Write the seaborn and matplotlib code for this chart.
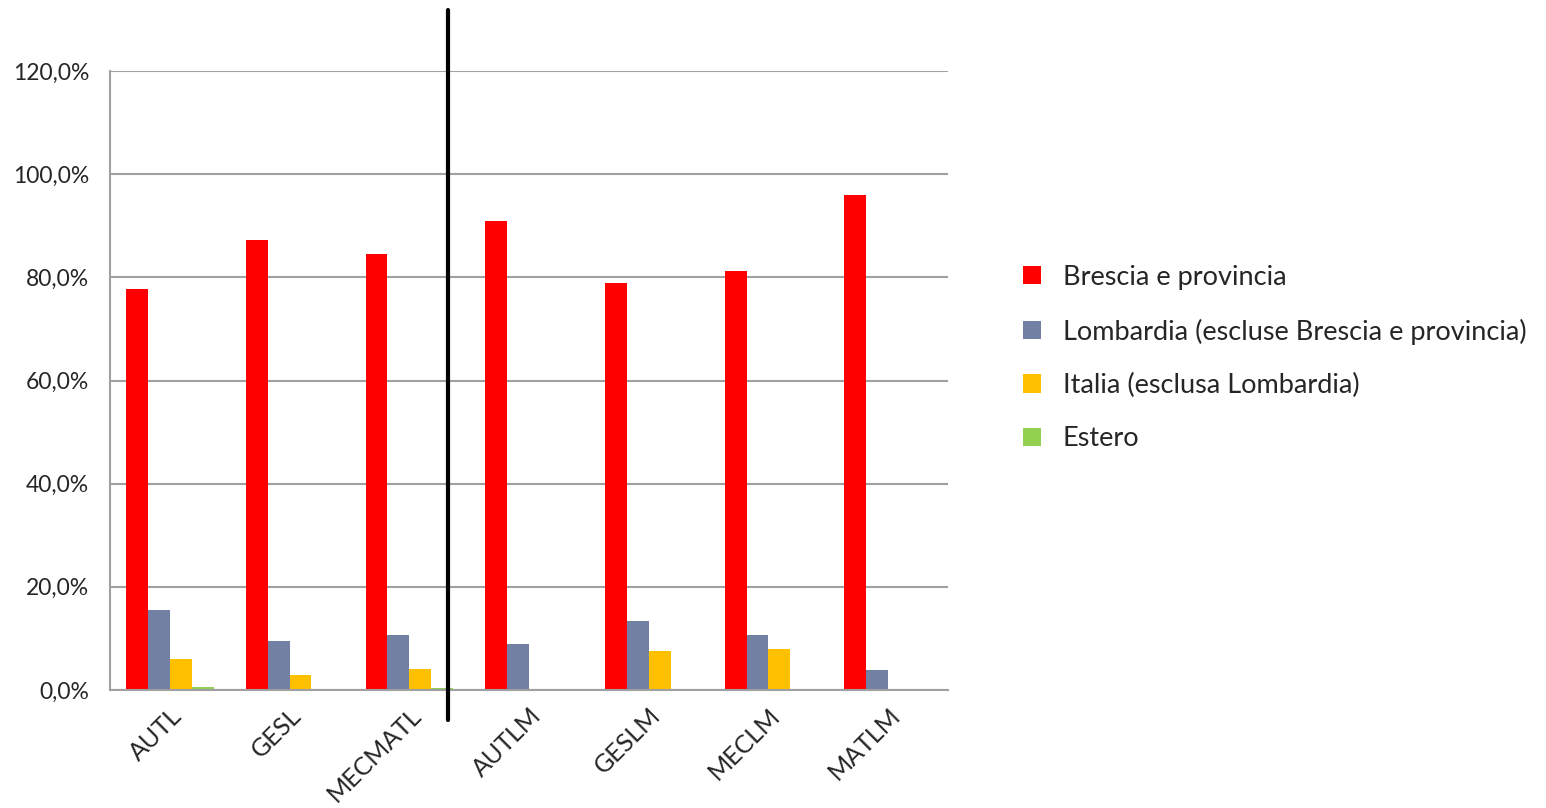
import pandas as pd
import matplotlib.pyplot as plt
import seaborn as sns
from matplotlib.lines import Line2D
from matplotlib.ticker import FuncFormatter, FixedLocator

# data (percent)
corsi = ["AUTL", "GESL", "MECMATL", "AUTLM", "GESLM", "MECLM", "MATLM"]
provenienze = ["Brescia e provincia",
               "Lombardia (escluse Brescia e provincia)",
               "Italia (esclusa Lombardia)",
               "Estero"]
brescia = [77.7, 87.2, 84.5, 90.9, 78.9, 81.2, 95.9]
lombardia = [15.5, 9.5, 10.6, 9.0, 13.4, 10.7, 3.9]
italia = [6.0, 3.0, 4.1, 0.0, 7.6, 8.0, 0.0]
estero = [0.5, 0.0, 0.4, 0.0, 0.0, 0.0, 0.0]
colori = ["#FF0000", "#7180A3", "#FFC000", "#92D050"]

rows = []
for nome, vals in zip(provenienze, [brescia, lombardia, italia, estero]):
    for c, v in zip(corsi, vals):
        rows.append({"Corso": c, "Provenienza": nome, "Valore": v})
df = pd.DataFrame(rows)

sns.set_style("white")
plt.rcParams['font.family'] = ['Lato', 'DejaVu Sans']

fig = plt.figure(figsize=(15.46, 8.08), dpi=100)
ax = fig.add_axes([110 / 1546, 1 - 690 / 808, 838 / 1546, 619 / 808])

sns.barplot(data=df, x="Corso", y="Valore", hue="Provenienza",
            palette=colori, width=0.73, gap=0, saturation=1,
            edgecolor="none", linewidth=0, ax=ax)

ax.set_xlim(-0.5, len(corsi) - 0.5)
ax.set_ylim(0, 120)
ax.set_yticks(range(0, 121, 20))
ax.yaxis.set_major_formatter(FuncFormatter(lambda v, p: f"{v:.1f}%".replace(".", ",")))
ax.set_xlabel("")
ax.set_ylabel("")
ax.grid(axis="y", color="#A0A0A0", linewidth=1.5)
ax.set_axisbelow(True)

for s in ["top", "right"]:
    ax.spines[s].set_visible(False)
for s in ["left", "bottom"]:
    ax.spines[s].set_color("#A0A0A0")
    ax.spines[s].set_linewidth(1.5)

# x ticks at category boundaries, labels at centres
ax.xaxis.set_major_locator(FixedLocator([i - 0.5 for i in range(len(corsi) + 1)]))
ax.xaxis.set_minor_locator(FixedLocator(range(len(corsi))))
ax.set_xticklabels([], minor=False)
ax.set_xticklabels(corsi, minor=True, rotation=45, ha="right",
                   rotation_mode="anchor", fontsize=18)
ax.tick_params(axis="x", which="major", length=7, width=1.5, color="#A0A0A0", direction="out")
ax.tick_params(axis="x", which="minor", length=0, pad=10)
ax.tick_params(axis="y", length=6, width=1.5, color="#A0A0A0", direction="out",
               labelsize=16.5, pad=9)

# separator between the two groups of courses
fig.add_artist(Line2D([448 / 1546, 448 / 1546], [1 - 720 / 808, 1 - 10 / 808],
                      color="black", linewidth=3))

handles, labels = ax.get_legend_handles_labels()
ax.legend(handles, labels, loc="center left", bbox_to_anchor=(1.061, 0.536),
          frameon=False, fontsize=19.5, handlelength=0.65, handleheight=0.65,
          handletextpad=0.8, labelspacing=1.05)

fig.savefig("out.png", dpi=100)
